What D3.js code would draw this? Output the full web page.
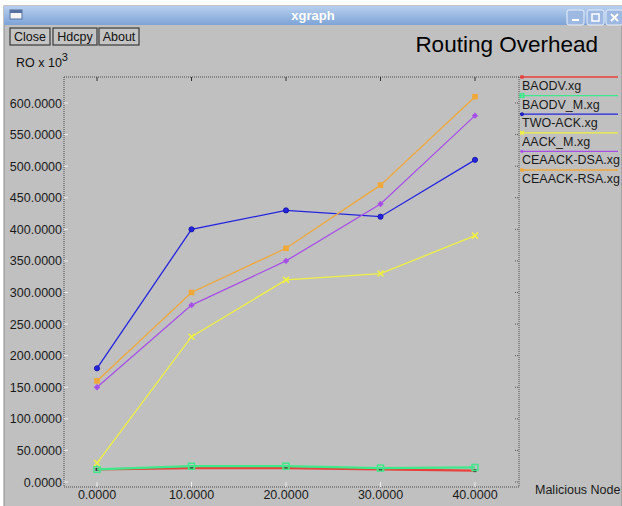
<!DOCTYPE html>
<html>
<head>
<meta charset="utf-8">
<script src="https://cdn.jsdelivr.net/npm/d3@7/dist/d3.min.js"></script>
<style>
  body { margin: 0; background: #ffffff; }
  svg text { font-family: "Liberation Sans", Arial, sans-serif; }
</style>
</head>
<body>
<div id="chart"></div>
<script>
// data (RO x 10^3 vs malicious nodes)
const nodes = [0, 10, 20, 30, 40];
const seriesNames = ["BAODV.xg", "BAODV_M.xg", "TWO-ACK.xg", "AACK_M.xg", "CEAACK-DSA.xg", "CEAACK-RSA.xg"];
const baodv = [20, 22, 22, 20, 18];
const baodvM = [20, 25, 25, 22, 23];
const twoAck = [180, 400, 430, 420, 510];
const aackM = [30, 230, 320, 330, 390];
const ceaackDsa = [150, 280, 350, 440, 580];
const ceaackRsa = [160, 300, 370, 470, 610];
const yTicks = [0, 50, 100, 150, 200, 250, 300, 350, 400, 450, 500, 550, 600];

const colors = ["#e8403a", "#3fe88a", "#2424e0", "#f0f040", "#a650e8", "#f0a838"];
const markers = ["dot", "square", "circle", "cross", "diamond", "box"];
const allValues = [baodv, baodvM, twoAck, aackM, ceaackDsa, ceaackRsa];

const W = 622, H = 506;
const svg = d3.select("#chart").append("svg")
  .attr("width", W).attr("height", H);

// window frame
svg.append("rect").attr("x", 4).attr("y", 6).attr("width", W - 4).attr("height", H)
  .attr("fill", "#c0c0c0").attr("stroke", "#8a8a8a");

const grad = svg.append("defs").append("linearGradient")
  .attr("id", "tbar").attr("x1", 0).attr("y1", 0).attr("x2", 0).attr("y2", 1);
grad.append("stop").attr("offset", 0).attr("stop-color", "#b8d0ef");
grad.append("stop").attr("offset", 1).attr("stop-color", "#7ea3d6");

svg.append("rect").attr("x", 4).attr("y", 6).attr("width", W - 4).attr("height", 19)
  .attr("fill", "url(#tbar)");
svg.append("text").attr("x", 313).attr("y", 20).attr("text-anchor", "middle")
  .attr("fill", "#ffffff").style("font-size", "13px").style("font-weight", "bold")
  .text("xgraph");

// window icon
svg.append("rect").attr("x", 10).attr("y", 10).attr("width", 12).attr("height", 9)
  .attr("fill", "#f4f4f4").attr("stroke", "#5670a0");
svg.append("rect").attr("x", 10).attr("y", 10).attr("width", 12).attr("height", 3)
  .attr("fill", "#5670a0");

// window controls
[567, 587, 606].forEach((bx, i) => {
  const g = svg.append("g");
  g.append("rect").attr("x", bx).attr("y", 10).attr("width", 17).attr("height", 15).attr("rx", 2)
    .attr("fill", "#9db9e2").attr("stroke", "#e8f0fb").attr("stroke-width", 1);
  if (i === 0) g.append("rect").attr("x", bx + 5).attr("y", 19).attr("width", 7).attr("height", 2).attr("fill", "#fff");
  if (i === 1) g.append("rect").attr("x", bx + 5).attr("y", 14).attr("width", 7).attr("height", 7)
    .attr("fill", "none").attr("stroke", "#fff").attr("stroke-width", 1.5);
  if (i === 2) g.append("path").attr("d", `M${bx + 5},14 L${bx + 12},21 M${bx + 12},14 L${bx + 5},21`)
    .attr("stroke", "#fff").attr("stroke-width", 2);
});

// buttons
const buttons = [["Close", 10, 40], ["Hdcpy", 53, 44], ["About", 99, 40]];
buttons.forEach(([label, bx, bw]) => {
  svg.append("rect").attr("x", bx).attr("y", 28).attr("width", bw).attr("height", 17)
    .attr("fill", "#c4c4c4").attr("stroke", "#3a3a3a").attr("stroke-width", 1.2);
  svg.append("text").attr("x", bx + bw / 2).attr("y", 41).attr("text-anchor", "middle")
    .style("font-size", "12.5px").attr("fill", "#111").text(label);
});

// titles
svg.append("text").attr("x", 598).attr("y", 52).attr("text-anchor", "end")
  .style("font-size", "22.5px").attr("fill", "#000").text("Routing Overhead");
const ylab = svg.append("text").attr("x", 16).attr("y", 67).style("font-size", "12.5px").attr("fill", "#111");
ylab.append("tspan").text("RO x 10");
ylab.append("tspan").attr("dy", -6).style("font-size", "11px").text("3");

// plot frame
const frame = { left: 64, right: 519, top: 77, bottom: 487 };
const x = d3.scaleLinear().domain([0, 40]).range([97, 475]);
const y = d3.scaleLinear().domain([0, 600]).range([482, 103]);

const dotted = { stroke: "#4a4a4a", "stroke-dasharray": "1,1", "stroke-width": 1 };
const frameLines = [
  [frame.left, frame.top, frame.left, frame.bottom],
  [frame.left, frame.bottom, frame.right, frame.bottom],
  [frame.left, frame.top, frame.right, frame.top],
  [frame.right, frame.top, frame.right, frame.bottom]
];
frameLines.forEach(([x1, y1, x2, y2]) => {
  const l = svg.append("line").attr("x1", x1).attr("y1", y1).attr("x2", x2).attr("y2", y2);
  Object.entries(dotted).forEach(([k, v]) => l.attr(k, v));
});

// y axis ticks + labels
yTicks.forEach(t => {
  svg.append("line").attr("x1", frame.left).attr("x2", frame.left + 4)
    .attr("y1", y(t)).attr("y2", y(t)).attr("stroke", "#eeeeee");
  svg.append("line").attr("x1", frame.right - 4).attr("x2", frame.right)
    .attr("y1", y(t)).attr("y2", y(t)).attr("stroke", "#555").attr("stroke-dasharray", "1,1");
  svg.append("text").attr("x", 62).attr("y", y(t) + 4.5).attr("text-anchor", "end")
    .style("font-size", "12.5px").attr("fill", "#1a1a1a").text(t.toFixed(4));
});

// x axis ticks + labels
nodes.forEach(t => {
  svg.append("line").attr("x1", x(t)).attr("x2", x(t))
    .attr("y1", frame.bottom - 5).attr("y2", frame.bottom).attr("stroke", "#eeeeee");
  svg.append("line").attr("x1", x(t)).attr("x2", x(t))
    .attr("y1", frame.top).attr("y2", frame.top + 4).attr("stroke", "#333");
  svg.append("text").attr("x", x(t)).attr("y", 499).attr("text-anchor", "middle")
    .style("font-size", "12.5px").attr("fill", "#1a1a1a").text(t.toFixed(4));
});
svg.append("text").attr("x", 535).attr("y", 494).style("font-size", "12.5px")
  .attr("fill", "#1a1a1a").text("Malicious Node");

// series
const line = d3.line().x((d, i) => x(nodes[i])).y(d => y(d));

function drawMarker(g, kind, cx, cy, color, s) {
  s = s || 1;
  if (kind === "dot") {
    g.append("rect").attr("x", cx - 1.5).attr("y", cy - 1.5).attr("width", 3).attr("height", 3).attr("fill", "#333");
  } else if (kind === "square") {
    g.append("rect").attr("x", cx - 3 * s).attr("y", cy - 3 * s).attr("width", 6 * s).attr("height", 6 * s)
      .attr("fill", "none").attr("stroke", color).attr("stroke-width", 1.5);
  } else if (kind === "circle") {
    g.append("circle").attr("cx", cx).attr("cy", cy).attr("r", 2.6 * s).attr("fill", color)
      .attr("stroke", "#1010a0").attr("stroke-width", 0.8);
  } else if (kind === "cross") {
    g.append("path").attr("d", `M${cx - 3 * s},${cy - 3 * s}L${cx + 3 * s},${cy + 3 * s}M${cx + 3 * s},${cy - 3 * s}L${cx - 3 * s},${cy + 3 * s}`)
      .attr("stroke", color).attr("stroke-width", 1.6);
  } else if (kind === "diamond") {
    g.append("path").attr("d", `M${cx},${cy - 3.2 * s}L${cx + 3.2 * s},${cy}L${cx},${cy + 3.2 * s}L${cx - 3.2 * s},${cy}Z`)
      .attr("fill", color);
  } else if (kind === "box") {
    g.append("rect").attr("x", cx - 2.8 * s).attr("y", cy - 2.8 * s).attr("width", 5.6 * s).attr("height", 5.6 * s).attr("fill", color);
  }
}

allValues.forEach((vals, si) => {
  const g = svg.append("g");
  g.append("path").datum(vals).attr("d", line).attr("fill", "none")
    .attr("stroke", colors[si]).attr("stroke-width", si < 2 ? 2.2 : 1.3);
  vals.forEach((v, i) => drawMarker(g, markers[si], x(nodes[i]), y(v), colors[si], 1));
});

// legend
seriesNames.forEach((name, i) => {
  const ly = frame.top + i * 18.6;
  svg.append("line").attr("x1", 520).attr("x2", 618).attr("y1", ly).attr("y2", ly)
    .attr("stroke", colors[i]).attr("stroke-width", 1.3);
  drawMarker(svg, markers[i] === "dot" ? "box" : markers[i], 522, ly, colors[i], 0.6);
  svg.append("text").attr("x", 522).attr("y", ly + 13).style("font-size", "12.5px")
    .attr("fill", "#1a1a1a").text(name);
});
</script>
</body>
</html>
